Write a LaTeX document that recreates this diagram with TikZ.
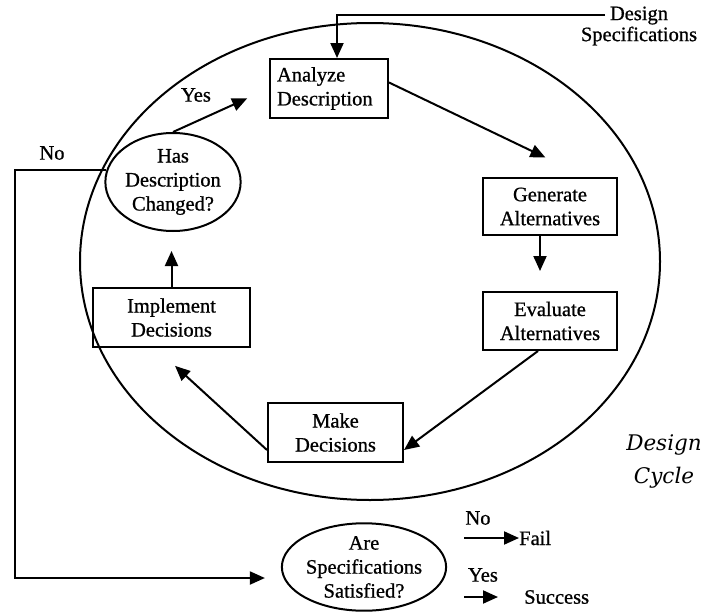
\documentclass[tikz,border=0pt]{standalone}
\usepackage{fontspec}
\setmainfont{Liberation Serif}[UprightFeatures={FakeBold=0.8}]
\newfontfamily\cyclefont{DejaVu Serif}
\usetikzlibrary{arrows.meta,shapes.geometric}

\begin{document}
\begin{tikzpicture}[x=1pt,y=-1pt,
  every node/.style={font=\fontsize{20.5}{24}\selectfont},
  stepbox/.style={draw,line width=2pt,inner sep=0pt,align=center},
  decision/.style={draw,ellipse,line width=2pt,inner sep=0pt,align=center},
  flow/.style={line width=2pt,-{Triangle[length=15pt,width=13pt]}},
  label/.style={inner sep=0pt}]

\useasboundingbox (0,0) rectangle (704,613);

% the design cycle
\draw[line width=2pt] (370,261.5) ellipse [x radius=290, y radius=238.5];

\node[stepbox,text width=104,align=left,minimum width=118,minimum height=59] (analyze) at (329,88.5) {Analyze\\Description};
\node[stepbox,minimum width=134,minimum height=57] (generate) at (550,206.5) {Generate\\Alternatives};
\node[stepbox,minimum width=134,minimum height=58] (evaluate) at (550,321) {Evaluate\\Alternatives};
\node[stepbox,minimum width=135,minimum height=59] (make) at (335.5,432.5) {Make\\Decisions};
\node[stepbox,minimum width=157,minimum height=59] (implement) at (171.5,317.5) {Implement\\Decisions};
\node[decision,minimum width=120,minimum height=98] (has) at (173,182) {Has\\Description\\Changed?};
\node[decision,minimum width=122,minimum height=84] (are) at (364,567) {Are\\Specifications\\Satisfied?};

\node[label,align=center,font=\fontsize{20.5}{21}\selectfont] (spec) at (639,26) {Design\\Specifications};
\node[label,align=center,font=\cyclefont\itshape\fontsize{21.5}{33}\selectfont] (cycle) at (664,461) {Design\\Cycle};

\node[label] (yes) at (196,95) {Yes};
\node[label] (no) at (52,153) {No};
\node[label] (nofail) at (478,518) {No};
\node[label] (yessucc) at (483,575) {Yes};
\node[label,anchor=west] (fail) at (519,538) {Fail};
\node[label,anchor=west] (success) at (524,597) {Success};

\coordinate (specin) at (605,15);
\coordinate (loopcorner) at (15,578);

% connectors
\draw[flow] (specin) -| ([xshift=8pt]analyze.north);
\draw[flow,shorten >=24pt] (has.north) -- (analyze.west);
\draw[flow,shorten >=45pt] ([yshift=6pt]analyze.east) -- ([xshift=36pt]generate.north);
\draw[flow,shorten >=20pt] ([xshift=-10pt]generate.south) -- ([xshift=-10pt]evaluate.north);
\draw[flow] ([xshift=-12pt]evaluate.south) -- ([yshift=-17.5pt]make.east);
\draw[flow,shorten >=26.5pt] ([yshift=-17.5pt]make.west) -- ([xshift=-16pt]implement.south);
\draw[flow,shorten >=19pt] (implement.north) -- (implement.north |- has.south);
\draw[flow,shorten >=16pt] (has.170) -| (loopcorner) -- (loopcorner -| are.west);
\draw[flow] ([xshift=17pt]are.east |- fail.west) -- (fail.west);
\draw[flow,shorten >=26pt] ([xshift=17pt]are.east |- success.west) -- (success.west);

\end{tikzpicture}
\end{document}
